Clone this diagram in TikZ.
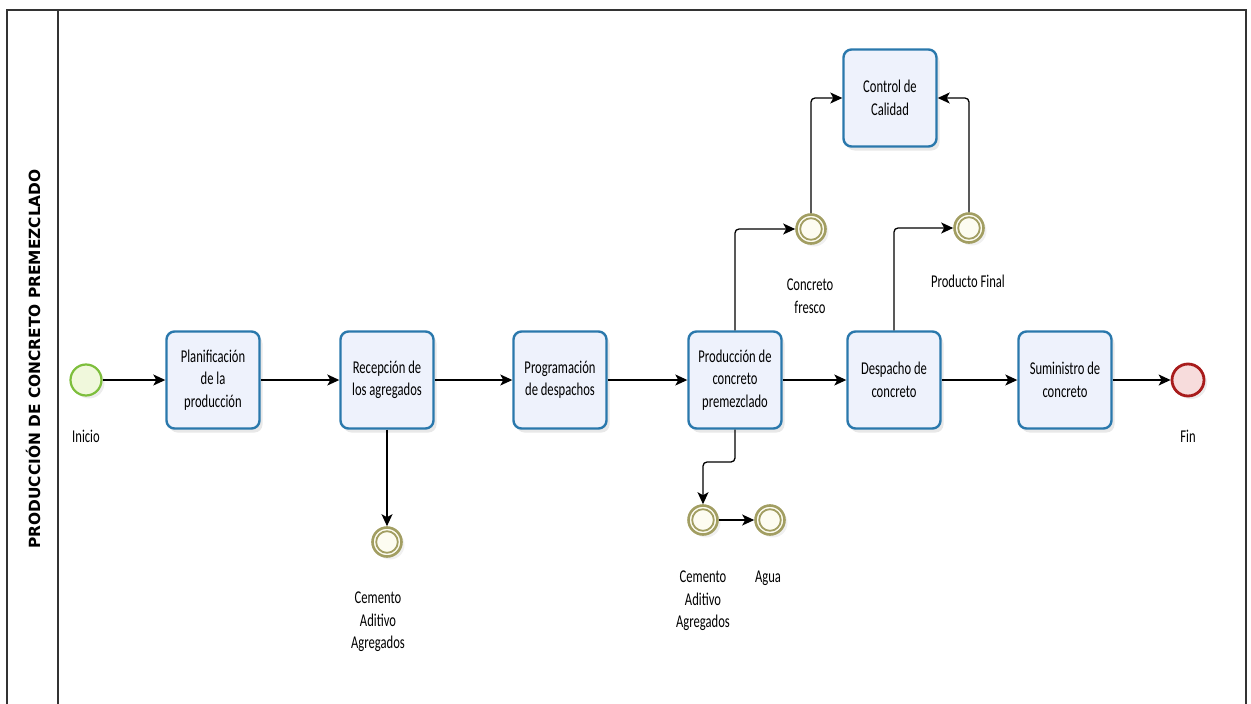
\documentclass[tikz,border=0pt]{standalone}
\usepackage{fontspec}
\usetikzlibrary{arrows.meta,shadows,calc}
\newfontfamily\lblfam{Carlito}[FakeStretch=0.7]
\newfontfamily\lanefam{DejaVu Sans}
\newcommand{\lblfont}{\lblfam\fontsize{18}{22.5}\selectfont}
\newcommand{\lanefont}{\lanefam\bfseries\fontsize{15.4}{16}\selectfont}
\definecolor{taskblue}{HTML}{2A78AC}
\definecolor{taskfill}{HTML}{EEF2FC}
\definecolor{startgreen}{HTML}{7DBE3C}
\definecolor{startfill}{HTML}{F0F8DC}
\definecolor{endred}{HTML}{A81C1C}
\definecolor{endfill}{HTML}{F7DCDC}
\definecolor{olivec}{HTML}{A29E62}
\definecolor{midfill}{HTML}{FDFCF1}
\definecolor{framec}{HTML}{333333}
\tikzset{
  task/.style={draw=taskblue, line width=2.4pt, fill=taskfill, rounded corners=8pt,
    minimum width=93pt, minimum height=97pt, align=center, font=\lblfont, inner sep=2pt,
    drop shadow={opacity=0.18, shadow xshift=3pt, shadow yshift=-4pt}},
  startev/.style={circle, draw=startgreen, line width=2.2pt, fill=startfill, minimum size=31pt, inner sep=0pt,
    drop shadow={opacity=0.15, shadow xshift=3pt, shadow yshift=-3pt}},
  endev/.style={circle, draw=endred, line width=2.8pt, fill=endfill, minimum size=32pt, inner sep=0pt,
    drop shadow={opacity=0.15, shadow xshift=3pt, shadow yshift=-3pt}},
  midev/.style={circle, draw=olivec, line width=2.6pt, fill=midfill, minimum size=29pt, inner sep=0pt,
    drop shadow={opacity=0.12, shadow xshift=3pt, shadow yshift=-3pt}},
  innerring/.style={draw=olivec, line width=1.8pt},
  flow/.style={draw=black, line width=1.3pt, rounded corners=4pt,
    -{Stealth[length=12pt,width=11pt,inset=3pt]}},
  lbl/.style={font=\lblfont, align=center, inner sep=0pt, text=black},
  frameline/.style={draw=framec, line width=1.6pt},
}
\begin{document}
\begin{tikzpicture}[x=1pt,y=-1pt]
\useasboundingbox (0,0) rectangle (1251,704);
% pool frame
\draw[frameline] (7,706) -- (7,10) -- (1246,10) -- (1246,706);
\draw[frameline] (58,10) -- (58,706);
\node[rotate=90, font=\lanefont, inner sep=0pt] (lane) at (33,359) {PRODUCCIÓN DE CONCRETO PREMEZCLADO};

% events
\node[startev] (start) at (86,380) {};
\node[endev] (fin) at (1188,380) {};

% tasks
\node[task] (t1) at (213,380) {Planificación\\de la\\producción};
\node[task] (t2) at (387,380) {Recepción de\\los agregados};
\node[task] (t3) at (560,380) {Programación\\de despachos};
\node[task] (t4) at (735,380) {Producción de\\concreto\\premezclado};
\node[task] (t5) at (894,380) {Despacho de\\concreto};
\node[task] (t6) at (1065,380) {Suministro de\\concreto};
\node[task] (qc) at (890,98) {Control de\\Calidad};

% intermediate events
\node[midev] (cf) at (811,229) {};
\node[midev] (pf) at (969,228) {};
\node[midev] (c1) at (387,542) {};
\node[midev] (c2) at (703,520) {};
\node[midev] (ag) at (770,520) {};
\foreach \e in {cf,pf,c1,c2,ag} { \draw[innerring] (\e.center) circle (10.8pt); }

% labels
\node[lbl] (linicio) at (86,436) {Inicio};
\node[lbl] (lfin) at (1188,436) {Fin};
\node[lbl] (lcf) at (810,296) {Concreto\\fresco};
\node[lbl] (lpf) at (968,281) {Producto Final};
\node[lbl] (lc1) at (378,622) {Cemento\\Aditivo\\Agregados};
\node[lbl] (lc2) at (703,601) {Cemento\\Aditivo\\Agregados};
\node[lbl] (lag) at (768,578) {Agua};

% connectors
\draw[flow] (start) -- (t1);
\draw[flow] (t1) -- (t2);
\draw[flow] (t2) -- (t3);
\draw[flow] (t3) -- (t4);
\draw[flow] (t4) -- (t5);
\draw[flow] (t5) -- (t6);
\draw[flow] (t6) -- (fin);
\draw[flow] (t2.south) -- (c1.north);
\draw[flow] (t4.north) |- (cf.west);
\draw[flow] (cf.north) |- (qc.west);
\draw[flow] (t5.north) |- (pf.west);
\draw[flow] (pf.north) |- (qc.east);
\coordinate (bend) at (735,462);
\draw[flow] (t4.south) -- (bend) -| (c2.north);
\draw[flow] (c2) -- (ag);
\end{tikzpicture}
\end{document}
